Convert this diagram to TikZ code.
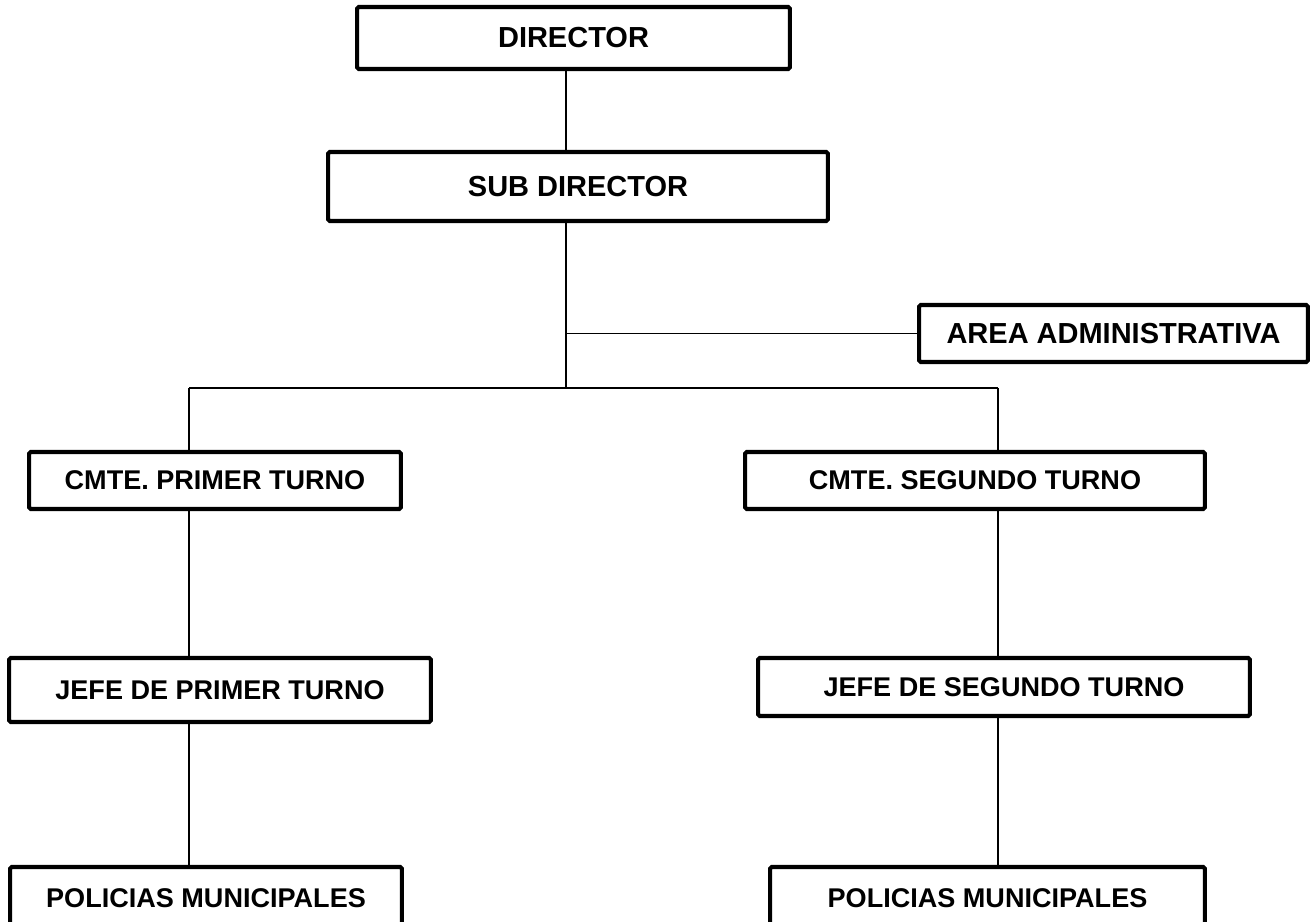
\documentclass[tikz,border=0pt]{standalone}
\usepackage{fontspec}
\setmainfont{Liberation Sans}
\usetikzlibrary{positioning}

\tikzset{
    cargo/.style={draw, line width=2.3pt, rounded corners=1pt, inner sep=0pt,
        font=\bfseries\fontsize{15.4}{18}\selectfont},
    jefatura/.style={cargo, font=\bfseries\fontsize{16.5}{19}\selectfont},
    linea/.style={line width=1.1pt}
}

\begin{document}
\begin{tikzpicture}[x=0.02cm, y=-0.02cm]

\useasboundingbox (0, 0) rectangle (1313, 922);

% direccion
\node[jefatura, minimum width=8.66cm, minimum height=1.24cm] (director) at (573.5, 38) {DIRECTOR};
\node[jefatura, minimum width=10cm, minimum height=1.38cm] (subdirector) at (578, 186.5) {SUB DIRECTOR};
\node[jefatura, minimum width=7.78cm, minimum height=1.14cm] (admin) at (1113.5, 333.5) {AREA ADMINISTRATIVA};

% puntos de reparto
\coordinate (tronco) at (566, 388);
\coordinate (rama-1) at (189, 388);
\coordinate (rama-2) at (998, 388);

% comandantes
\node[cargo, minimum width=7.44cm, minimum height=1.14cm] (cmte-1) at (215, 480.5) {CMTE. PRIMER TURNO};
\node[cargo, minimum width=9.2cm, minimum height=1.14cm] (cmte-2) at (975, 480.5) {CMTE. SEGUNDO TURNO};

% jefes de turno
\node[cargo, minimum width=8.44cm, minimum height=1.28cm] (jefe-1) at (220, 690) {JEFE DE PRIMER TURNO};
\node[cargo, minimum width=9.84cm, minimum height=1.16cm] (jefe-2) at (1004, 687) {JEFE DE SEGUNDO TURNO};

% policias
\node[cargo, minimum width=7.84cm, minimum height=1.24cm] (policias-1) at (206, 898) {POLICIAS MUNICIPALES};
\node[cargo, minimum width=8.7cm, minimum height=1.24cm] (policias-2) at (987.5, 898) {POLICIAS MUNICIPALES};

% conectar la direccion
\draw[linea] (director.south -| tronco) -- (subdirector.north -| tronco);
\draw[linea] (subdirector.south -| tronco) -- (tronco);
\draw[linea] (admin.west) -- (admin.west -| tronco);
\draw[linea] (rama-1) -- (rama-2);

% conectar cada turno
\foreach \m in {1, 2} {
    \draw[linea] (rama-\m) -- (rama-\m |- cmte-\m.north);
    \draw[linea] (cmte-\m.south -| rama-\m) -- (jefe-\m.north -| rama-\m);
    \draw[linea] (jefe-\m.south -| rama-\m) -- (policias-\m.north -| rama-\m);
}

\end{tikzpicture}
\end{document}
